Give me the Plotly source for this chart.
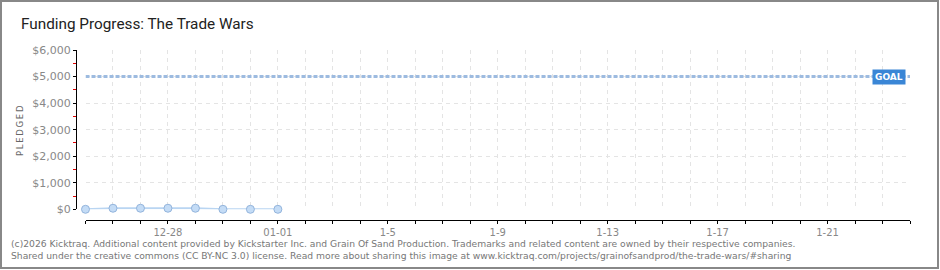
import plotly.graph_objects as go
import pandas as pd

# ---- data ----
pledge_dates = ["2025-12-25", "2025-12-26", "2025-12-27", "2025-12-28",
                "2025-12-29", "2025-12-30", "2025-12-31", "2026-01-01"]
pledge_values = [0, 40, 40, 40, 40, 0, 0, 0]
goal_value = 5000
goal_dates = ["2025-12-25", "2026-01-24"]

x_tick_dates = [d.strftime("%Y-%m-%d") for d in pd.date_range("2025-12-25", "2026-01-24")]
x_tick_labels = {"2025-12-28": "12-28", "2026-01-01": "01-01", "2026-01-05": "1-5",
                 "2026-01-09": "1-9", "2026-01-13": "1-13", "2026-01-17": "1-17",
                 "2026-01-21": "1-21"}
y_tick_vals = [0, 1000, 2000, 3000, 4000, 5000, 6000]
y_tick_labels = ["$0", "$1,000", "$2,000", "$3,000", "$4,000", "$5,000", "$6,000"]
y_minor_vals = [500, 1500, 2500, 3500, 4500, 5500]

title_text = "Funding Progress: The Trade Wars"
footer_1 = ("(c)2026 Kicktraq. Additional content provided by Kickstarter Inc. and Grain Of Sand "
            "Production. Trademarks and related content are owned by their respective companies.")
footer_2 = ("Shared under the creative commons (CC BY-NC 3.0) license. Read more about sharing this "
            "image at www.kicktraq.com/projects/grainofsandprod/the-trade-wars/#sharing")

# ---- layout geometry (pixels) ----
W, H = 940, 270
L, R, T, B = 76, 30, 50, 50
PW, PH = W - L - R, H - T - B


def px(x):
    return (x - L) / PW


def py(y):
    return (H - B - y) / PH


fig = go.Figure()

fig.add_trace(go.Scatter(
    x=goal_dates, y=[goal_value] * len(goal_dates), mode="lines",
    line=dict(color="#9dbbe0", width=3, dash="4px,2px"), hoverinfo="skip",
    showlegend=False, cliponaxis=False))

fig.add_trace(go.Scatter(
    x=pledge_dates, y=pledge_values, mode="lines+markers",
    line=dict(color="#b9d5f2", width=2),
    marker=dict(size=8, color="#c4dcf6", line=dict(color="#93b4dc", width=1)),
    showlegend=False, cliponaxis=False))

font_main = "DejaVu Sans"

fig.update_layout(
    width=W, height=H,
    margin=dict(l=L, r=R, t=T, b=B, pad=0),
    paper_bgcolor="white", plot_bgcolor="white",
    font=dict(family=font_main, size=10, color="#888888"),
    xaxis=dict(
        type="date", range=["2025-12-25", "2026-01-24"],
        domain=[9.5 / PW, 1], anchor="free", position=0,
        tickvals=x_tick_dates, ticktext=[x_tick_labels.get(d, "") for d in x_tick_dates],
        ticks="outside", ticklen=3, tickcolor="#000000", tickwidth=1,
        showline=True, linecolor="#000000", linewidth=1,
        showgrid=True, gridcolor="#e4e4e4", griddash="4px,4px", gridwidth=1,
        zeroline=False, tickfont=dict(size=10, color="#888888"),
    ),
    yaxis=dict(
        range=[0, 6000], domain=[10.7 / PH, 1], anchor="free", position=0,
        tickvals=y_tick_vals, ticktext=y_tick_labels,
        ticks="outside", ticklen=3, tickcolor="#000000", tickwidth=1,
        minor=dict(tickvals=y_minor_vals, ticks="outside",
                   ticklen=3, tickcolor="#e00000", showgrid=False),
        showline=True, linecolor="#000000", linewidth=1,
        showgrid=True, gridcolor="#e4e4e4", griddash="4px,4px", gridwidth=1,
        zeroline=False, tickfont=dict(size=11, color="#888888"),
    ),
    shapes=[dict(type="rect", xref="paper", yref="paper",
                 x0=px(1), x1=px(938), y0=py(1), y1=py(268),
                 line=dict(color="#888888", width=2), fillcolor="rgba(0,0,0,0)", layer="above")],
    annotations=[
        dict(text=title_text, xref="paper", yref="paper", x=px(19), y=py(24),
             xanchor="left", yanchor="middle", showarrow=False,
             font=dict(family="Roboto", size=15.3, color="#222222")),
        dict(text="P\u2009L\u2009E\u2009D\u2009G\u2009E\u2009D", xref="paper", yref="paper",
             x=px(20), y=py(131),
             xanchor="center", yanchor="middle", showarrow=False, textangle=-90,
             font=dict(family=font_main, size=8.5, color="#666666")),
        dict(text="<b>GOAL</b>", xref="x", yref="y", x="2026-01-23", y=goal_value,
             xshift=6, xanchor="center", yanchor="middle", showarrow=False,
             bgcolor="#3a86d6", borderpad=2,
             font=dict(family=font_main, size=9, color="#ffffff")),
        dict(text=footer_1, xref="paper", yref="paper", x=px(9), y=py(243),
             xanchor="left", yanchor="middle", showarrow=False,
             font=dict(family=font_main, size=9.2, color="#777777")),
        dict(text=footer_2, xref="paper", yref="paper", x=px(9), y=py(256),
             xanchor="left", yanchor="middle", showarrow=False,
             font=dict(family=font_main, size=9.2, color="#777777")),
    ],
)

fig.write_html("out.html")
